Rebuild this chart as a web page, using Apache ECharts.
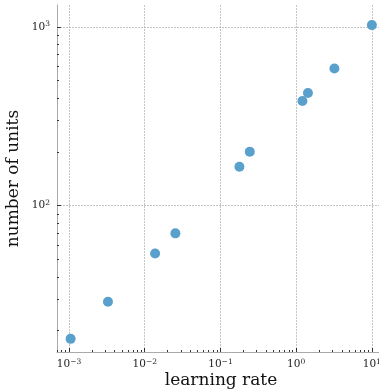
<!DOCTYPE html>
<html><head><meta charset="utf-8">
<script src="https://cdn.jsdelivr.net/npm/echarts@6/dist/echarts.min.js"></script>
<style>html,body{margin:0;padding:0;background:#fff}#c{width:379px;height:392px}</style>
</head><body><div id="c"></div>
<script>
const learningRate = [0.00105, 0.00327, 0.0137, 0.0254, 0.178, 0.244, 1.21, 1.43, 3.2, 10.0];
const numUnits = [18, 29, 54, 70, 165, 200, 385, 426, 585, 1022];
const xMajor = [1e-3, 1e-2, 1e-1, 1, 10];
const xMinor = [7e-4, 8e-4, 9e-4, 2e-3, 3e-3, 4e-3, 5e-3, 6e-3, 7e-3, 8e-3, 9e-3, 2e-2, 3e-2, 4e-2, 5e-2, 6e-2, 7e-2, 8e-2, 9e-2, 0.2, 0.3, 0.4, 0.5, 0.6, 0.7, 0.8, 0.9, 2, 3, 4, 5, 6, 7, 8, 9];
const yMajor = [100, 1000];
const yMinor = [20, 30, 40, 50, 60, 70, 80, 90, 200, 300, 400, 500, 600, 700, 800, 900];
const xRange = [6.94e-4, 14.9];
const yRange = [15.2, 1324];

const serif = '"DejaVu Serif", serif';
function expLabel(v) {
  const e = Math.round(Math.log10(v));
  return '10{sup|' + String(e).replace('-', '\u2212') + '}';
}
const rich = { sup: { fontSize: 7.5, fontFamily: serif, color: '#222', verticalAlign: 'top', padding: [0, 0, 5, 0] } };

const chart = echarts.init(document.getElementById('c'));
chart.setOption({
  animation: false,
  grid: { left: 57, top: 5, right: -6, bottom: 40, outerBoundsMode: 'none', containLabel: false },
  xAxis: [{
    type: 'log', logBase: 10, min: xRange[0], max: xRange[1],
    name: 'learning rate', nameLocation: 'middle', nameGap: 20, nameMoveOverlap: false,
    nameTextStyle: { fontFamily: serif, fontSize: 17, color: '#111' },
    axisLine: { lineStyle: { color: '#aaaaaa', width: 1 } },
    axisTick: { customValues: xMajor, inside: true, length: 4, lineStyle: { color: '#333' } },
    axisLabel: { customValues: xMajor, formatter: expLabel, rich: rich, fontFamily: serif, fontSize: 10.5, color: '#222', margin: 6 },
    splitLine: { show: true, lineStyle: { color: '#b5b5b5', type: [2, 1], width: 0.8 } }
  }, {
    type: 'log', logBase: 10, min: xRange[0], max: xRange[1], position: 'bottom', offset: 0,
    axisLine: { show: false },
    axisTick: { show: true, customValues: xMinor, inside: true, length: 2, lineStyle: { color: '#333' } },
    axisLabel: { show: false },
    splitLine: { show: false }
  }],
  yAxis: [{
    type: 'log', logBase: 10, min: yRange[0], max: yRange[1],
    name: 'number of units', nameLocation: 'middle', nameGap: 35, nameMoveOverlap: false,
    nameTextStyle: { fontFamily: serif, fontSize: 17, color: '#111' },
    axisLine: { show: true, lineStyle: { color: '#aaaaaa', width: 1 } },
    axisTick: { show: true, customValues: yMajor, inside: true, length: 4, lineStyle: { color: '#333' } },
    axisLabel: { customValues: yMajor, formatter: expLabel, rich: rich, fontFamily: serif, fontSize: 10.5, color: '#222', margin: 7 },
    splitLine: { show: true, lineStyle: { color: '#b5b5b5', type: [2, 1], width: 0.8 } }
  }, {
    type: 'log', logBase: 10, min: yRange[0], max: yRange[1], position: 'left', offset: 0,
    axisLine: { show: false },
    axisTick: { show: true, customValues: yMinor, inside: true, length: 2, lineStyle: { color: '#333' } },
    axisLabel: { show: false },
    splitLine: { show: false }
  }],
  series: [{
    type: 'scatter', xAxisIndex: 0, yAxisIndex: 0,
    data: learningRate.map((x, i) => [x, numUnits[i]]),
    symbolSize: 10,
    itemStyle: { color: '#5aa0cc', opacity: 1 }
  }]
});
</script></body></html>
